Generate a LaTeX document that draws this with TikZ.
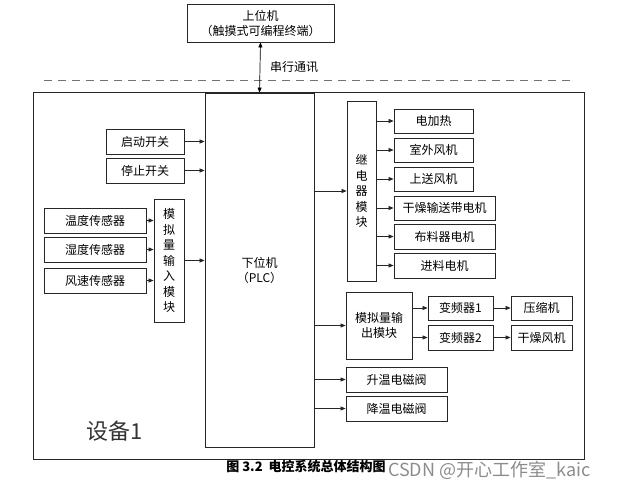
\documentclass[tikz,border=0pt]{standalone}
\usepackage{fontspec}
\setmainfont{Noto Sans CJK SC}
\usetikzlibrary{arrows.meta}
\begin{document}
\begin{tikzpicture}[x=1pt,y=-1pt,
  box/.style={draw=black!85, line width=0.8pt, inner sep=0pt, align=center,
    font=\fontsize{12}{15}\selectfont},
  vbox/.style={box, font=\fontsize{12}{15.5}\selectfont},
  arr/.style={-{Triangle[length=5pt,width=4pt]}, line width=0.7pt, draw=black!85},
  darr/.style={{Triangle[length=5pt,width=4pt]}-{Triangle[length=5pt,width=4pt]}, line width=0.7pt},
  lbl/.style={inner sep=0pt, font=\fontsize{12}{14}\selectfont}]
\useasboundingbox (0,0) rectangle (617,492);
% top computer
\node[box, minimum width=147pt, minimum height=38pt] (top) at (260.5,23) {上位机\\（触摸式可编程终端）};
\node[lbl, anchor=west] (serial) at (270,67) {串行通讯};
\coordinate (dl) at (44,80);
\coordinate (dr) at (575,80);
\draw[black!55, line width=0.8pt, dash pattern=on 8pt off 6pt] (dl) -- (dr);
% frame
\node[draw=black!85, line width=0.9pt, minimum width=551pt, minimum height=367pt, inner sep=0pt] (frame) at (308.5,275.5) {};
\node[inner sep=0pt, font=\fontsize{22}{26}\selectfont, text=black!80] (dev) at (115,431) {设备1};
% PLC
\node[box, minimum width=109pt, minimum height=354pt] (plc) at (259.5,270) {下位机\\（PLC）};
\draw[darr] (top.south) -- (plc.north);
% inputs
\node[box, minimum width=78pt, minimum height=25pt] (start) at (145,141.5) {启动开关};
\node[box, minimum width=78pt, minimum height=25pt] (stop) at (145,170.5) {停止开关};
\node[box, minimum width=102pt, minimum height=25pt] (s1) at (95,220.5) {温度传感器};
\node[box, minimum width=102pt, minimum height=25pt] (s2) at (95,249.5) {湿度传感器};
\node[box, minimum width=102pt, minimum height=25pt] (s3) at (95,280.5) {风速传感器};
\node[vbox, minimum width=30pt, minimum height=123pt] (ai) at (169,260.5) {模\\拟\\量\\输\\入\\模\\块};
\draw[arr] (start.east) -- (start.east -| plc.west);
\draw[arr] (stop.east) -- (stop.east -| plc.west);
\draw[arr] (s1.east) -- (s1.east -| ai.west);
\draw[arr] (s2.east) -- (s2.east -| ai.west);
\draw[arr] (s3.east) -- (s3.east -| ai.west);
\draw[arr] (ai.east) -- (ai.east -| plc.west);
% relay module
\node[vbox, minimum width=29pt, minimum height=180pt] (relay) at (361.5,191) {继\\电\\器\\模\\块};
\draw[arr] (plc.east |- relay.west) -- (relay.west);
\node[box, minimum width=79pt, minimum height=24pt] (o1) at (433.5,121) {电加热};
\node[box, minimum width=79pt, minimum height=24pt] (o2) at (433.5,150) {室外风机};
\node[box, minimum width=79pt, minimum height=24pt] (o3) at (433.5,179) {上送风机};
\node[box, minimum width=101pt, minimum height=24pt] (o4) at (444.5,208) {干燥输送带电机};
\node[box, minimum width=101pt, minimum height=25pt] (o5) at (444.5,236.5) {布料器电机};
\node[box, minimum width=101pt, minimum height=25pt] (o6) at (444.5,265.5) {进料电机};
\foreach \o in {o1,o2,o3,o4,o5,o6} {\draw[arr] (\o.west -| relay.east) -- (\o.west);}
% analog output
\node[box, minimum width=66pt, minimum height=67pt] (ao) at (379,325.5) {模拟量输\\出模块};
\draw[arr] (plc.east |- ao.west) -- (ao.west);
\node[box, minimum width=65pt, minimum height=24pt] (v1) at (460.5,308) {变频器1};
\node[box, minimum width=65pt, minimum height=25pt] (v2) at (460.5,337.5) {变频器2};
\node[box, minimum width=61pt, minimum height=24pt] (m1) at (541.5,308) {压缩机};
\node[box, minimum width=61pt, minimum height=25pt] (m2) at (541.5,337.5) {干燥风机};
\draw[arr] (v1.west -| ao.east) -- (v1.west);
\draw[arr] (v2.west -| ao.east) -- (v2.west);
\draw[arr] (v1) -- (m1);
\draw[arr] (v2) -- (m2);
% valves
\node[box, minimum width=101pt, minimum height=25pt] (h1) at (396.5,379.5) {升温电磁阀};
\node[box, minimum width=101pt, minimum height=25pt] (h2) at (396.5,408.5) {降温电磁阀};
\draw[arr] (plc.east |- h1.west) -- (h1.west);
\draw[arr] (plc.east |- h2.west) -- (h2.west);
% caption
\node[inner sep=0pt, font=\fontsize{13}{15}\selectfont\bfseries] (cap) at (306,467) {图 3.2\ \ 电控系统总体结构图};
\node[inner sep=0pt, font=\fontsize{18}{20}\selectfont, text=black!45, anchor=west] (wm) at (388,470) {CSDN @开心工作室\_kaic};
\end{tikzpicture}
\end{document}
